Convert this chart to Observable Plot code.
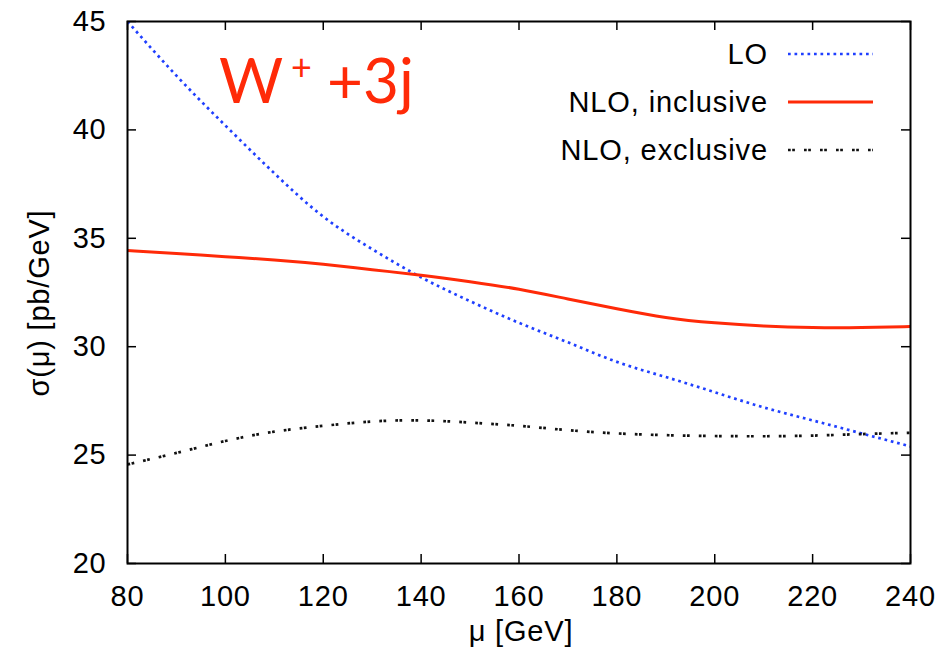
<!DOCTYPE html>
<html>
<head>
<meta charset="utf-8">
<script src="https://cdn.jsdelivr.net/npm/d3@7"></script>
<script src="https://cdn.jsdelivr.net/npm/@observablehq/plot@0.6"></script>
<style>
  html, body { margin: 0; padding: 0; background: #fff; }
  #chart { position: relative; width: 946px; height: 663px; }
</style>
</head>
<body>
<div id="chart"></div>
<script>
// ---- data ----
const muGrid = [80, 90, 100, 110, 120, 130, 140, 150, 160, 170, 180, 190, 200, 210, 220, 230, 240];
const sigmaLO = [45.0, 42.5, 40.2, 38.0, 36.0, 34.5, 33.2, 32.1, 31.1, 30.2, 29.3, 28.6, 27.9, 27.2, 26.6, 26.0, 25.4];
const sigmaNLOincl = [34.44, 34.3, 34.15, 34.0, 33.8, 33.55, 33.3, 33.0, 32.65, 32.2, 31.75, 31.35, 31.1, 30.95, 30.88, 30.88, 30.93];
const sigmaNLOexcl = [24.57, 25.1, 25.65, 26.08, 26.35, 26.55, 26.6, 26.5, 26.35, 26.15, 26.0, 25.92, 25.88, 25.87, 25.9, 25.97, 26.03];
const seriesNames = ["LO", "NLO, inclusive", "NLO, exclusive"];
const xTicks = [80, 100, 120, 140, 160, 180, 200, 220, 240];
const yTicks = [20, 25, 30, 35, 40, 45];
const xLabel = "μ [GeV]";
const yLabel = "σ(μ) [pb/GeV]";
const titleMain = "W", titleSup = "+", titleRest = "+3j";

// ---- styles ----
const W = 946, H = 663;
const mL = 127, mR = 36, mT = 21, mB = 100;
const plotW = W - mL - mR, plotH = H - mT - mB;
const tickLen = 9;
const font = "'Liberation Sans', Arial, Helvetica, sans-serif";
const styles = [
  {stroke: "#1f3fff", strokeWidth: 2.7, strokeDasharray: "2.7,3.8"},
  {stroke: "#ff2a08", strokeWidth: 3, strokeDasharray: null},
  {stroke: "#111111", strokeWidth: 2.7, strokeDasharray: "2.7,1.5,2.7,9.1"}
];
const seriesValues = [sigmaLO, sigmaNLOincl, sigmaNLOexcl];
const tables = seriesValues.map(vals => muGrid.map((mu, i) => ({mu, s: vals[i]})));

const lineMarks = tables.map((t, k) => Plot.line(t, {
  x: "mu", y: "s", curve: "natural", clip: true,
  stroke: styles[k].stroke, strokeWidth: styles[k].strokeWidth,
  strokeDasharray: styles[k].strokeDasharray, strokeLinecap: "butt"
}));

const chart = Plot.plot({
  width: W, height: H,
  marginLeft: mL, marginRight: mR, marginTop: mT, marginBottom: mB,
  style: {fontFamily: font, fontSize: "29px", color: "#000", background: "#fff", letterSpacing: "0.8px"},
  x: {domain: [80, 240], label: null},
  y: {domain: [20, 45], label: null},
  marks: [
    Plot.axisX(xTicks, {tickSize: 0, tickPadding: 22, fontSize: 29, label: null}),
    Plot.axisY(yTicks, {tickSize: 0, tickPadding: 21, fontSize: 29, label: null}),
    // inward ticks on all four sides
    Plot.ruleX(xTicks, {x: d => d, insetTop: plotH - tickLen, stroke: "#000", strokeWidth: 1.5}),
    Plot.ruleX(xTicks, {x: d => d, insetBottom: plotH - tickLen, stroke: "#000", strokeWidth: 1.5}),
    Plot.ruleY(yTicks, {y: d => d, insetRight: plotW - tickLen, stroke: "#000", strokeWidth: 1.5}),
    Plot.ruleY(yTicks, {y: d => d, insetLeft: plotW - tickLen, stroke: "#000", strokeWidth: 1.5}),
    ...lineMarks,
    Plot.frame({stroke: "#000", strokeWidth: 2})
  ]
});

document.getElementById("chart").appendChild(chart);

// ---- overlay: axis titles, legend, annotation ----
const svg = d3.select(chart);
const g = svg.append("g").style("font-family", font);

g.append("text")
  .attr("x", 521).attr("y", 633)
  .attr("text-anchor", "middle").attr("dominant-baseline", "middle")
  .attr("font-size", 29).style("letter-spacing", "0.8px").attr("fill", "#000")
  .text(xLabel);

g.append("text")
  .attr("transform", `translate(41,${mT + plotH / 2 + 11}) rotate(-90)`)
  .attr("text-anchor", "middle").attr("dominant-baseline", "middle")
  .attr("font-size", 29).style("letter-spacing", "0.8px").attr("fill", "#000")
  .text(yLabel);

// legend
const legRowY = [54, 102, 150];
seriesNames.forEach((name, k) => {
  g.append("text")
    .attr("x", 768).attr("y", legRowY[k])
    .attr("text-anchor", "end").attr("dominant-baseline", "central")
    .attr("font-size", 29).style("letter-spacing", "0.9px").attr("fill", "#000")
    .text(name);
  const ln = g.append("line")
    .attr("x1", 788).attr("x2", 873)
    .attr("y1", legRowY[k]).attr("y2", legRowY[k])
    .attr("stroke", styles[k].stroke)
    .attr("stroke-width", styles[k].strokeWidth);
  if (styles[k].strokeDasharray) ln.attr("stroke-dasharray", styles[k].strokeDasharray);
});

// annotation W+ +3j
const t = g.append("text")
  .attr("text-anchor", "start")
  .style("font-family", "Lato, 'Open Sans', sans-serif")
  .style("letter-spacing", "0px")
  .attr("fill", "#ff2a08");
t.append("tspan").attr("x", 219).attr("y", 103).attr("font-size", 62).text(titleMain);
t.append("tspan").attr("x", 291).attr("y", 80).attr("font-size", 36).text(titleSup);
t.append("tspan").attr("x", 327).attr("y", 103).attr("font-size", 62).text(titleRest);
</script>
</body>
</html>
